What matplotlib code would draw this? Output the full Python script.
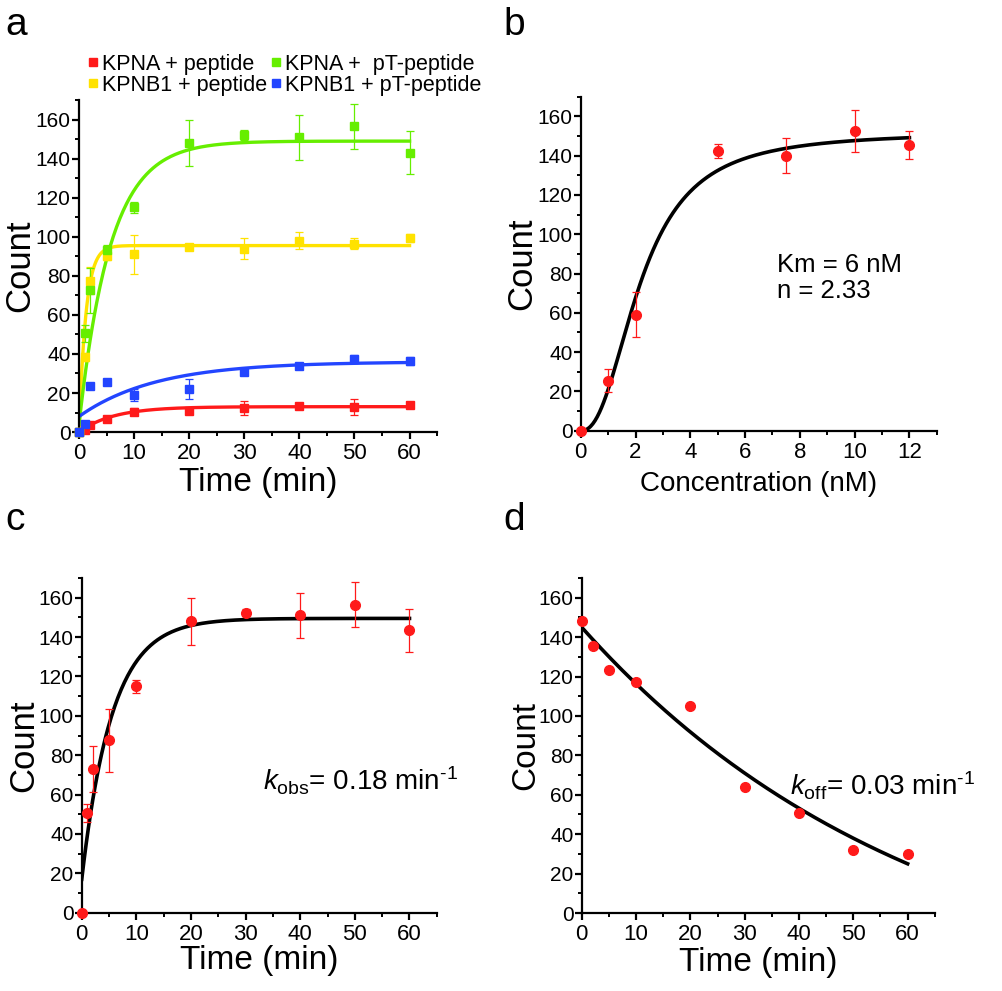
import numpy as np
import matplotlib
matplotlib.use('Agg')
import matplotlib.pyplot as plt
from matplotlib.ticker import MultipleLocator

plt.rcParams['font.family'] = ['Liberation Sans', 'DejaVu Sans']
plt.rcParams['mathtext.fontset'] = 'custom'
plt.rcParams['mathtext.rm'] = 'Liberation Sans'
plt.rcParams['mathtext.it'] = 'Liberation Sans:italic'

# ---- data ----
time_a = [0, 1, 2, 5, 10, 20, 30, 40, 50, 60]

kpna_pep = [0, 1, 3.5, 6.5, 10.5, 11, 12.5, 13.5, 13, 14]
kpna_pep_err = [0, 0.5, 1, 1, 2, 1, 3.5, 1, 4, 1.5]

kpna_pt = [0, 50.5, 72.5, 93, 115, 148, 152, 151, 156.5, 143]
kpna_pt_err = [0, 4.5, 11.5, 3, 3, 12, 2.5, 11.5, 11.5, 11]

kpnb_pep = [0, 38.5, 77.5, 90, 91, 95, 94, 98, 96.5, 99.5]
kpnb_pep_err = [0, 2, 7, 2, 10, 1.5, 5.5, 4.5, 3, 2]

kpnb_pt = [0, 4, 23.5, 25.5, 19, 22, 31, 34, 37.5, 36.5]
kpnb_pt_err = [0, 1, 1, 1, 3, 5, 2, 1, 2, 2]

# fitted curves (y0, plateau, k) as shown in panel a
fit_kpna_pep = (0, 13, 0.16)
fit_kpna_pt = (4, 149, 0.175)
fit_kpnb_pep = (0, 95.5, 0.8)
fit_kpnb_pt = (8, 36, 0.0715)

conc_b = [0, 1, 2, 5, 7.5, 10, 12]
count_b = [0, 25.5, 59, 142.5, 140, 152.5, 145.5]
err_b = [0, 6, 11.5, 3.5, 9, 10.8, 7.2]
hill_vmax, hill_k, hill_n = 152, 2.2, 2.33

time_c = [0, 1, 2, 5, 10, 20, 30, 40, 50, 60]
count_c = [0, 50.5, 73, 87.5, 115, 148, 152.5, 151, 156.5, 143.5]
err_c = [0, 4.5, 11.5, 16, 3.3, 12, 2, 11.5, 11.5, 11]
fit_c = (17, 149.5, 0.18)

time_d = [0, 2, 5, 10, 20, 30, 40, 50, 60]
count_d = [148, 135.5, 123.5, 117, 105, 64, 51, 32, 30]
fit_d = (-50.6, 195.6, 0.01585)   # offset, amplitude, k

RED = '#ff1a1a'
GREEN = '#66ee00'
YELLOW = '#ffe200'
BLUE = '#2345ff'


def rise(t, p):
    y0, top, k = p
    return top - (top - y0) * np.exp(-k * t)


def style_axes(ax, xmax, xmajor, xminor):
    ax.set_xlim(0, xmax)
    ax.set_ylim(0, 170)
    ax.xaxis.set_major_locator(MultipleLocator(xmajor))
    ax.xaxis.set_minor_locator(MultipleLocator(xminor))
    ax.yaxis.set_major_locator(MultipleLocator(20))
    ax.yaxis.set_minor_locator(MultipleLocator(10))
    for s in ['top', 'right']:
        ax.spines[s].set_visible(False)
    for s in ['left', 'bottom']:
        ax.spines[s].set_linewidth(1.6)
    ax.tick_params(which='major', direction='out', length=5, width=1.6)
    ax.tick_params(axis='y', which='major', pad=1, labelsize=15)
    ax.tick_params(axis='x', which='major', pad=3, labelsize=16)
    ax.tick_params(which='minor', direction='out', length=3, width=1.4)


def count_label(ax, xpos, size=25):
    ax.set_ylabel('Count', fontsize=size, va='center')
    ax.yaxis.set_label_coords(xpos, 0.5)


fig = plt.figure(figsize=(10.03, 9.91), dpi=100)

ax_a = fig.add_axes([0.0788, 0.564, 0.357, 0.335])
ax_b = fig.add_axes([0.579, 0.5654, 0.355, 0.337])
ax_c = fig.add_axes([0.0815, 0.079, 0.354, 0.3377])
ax_d = fig.add_axes([0.580, 0.0787, 0.352, 0.338])

# ---- panel a ----
tt = np.linspace(0, 60, 300)
series = [
    (kpna_pep, kpna_pep_err, fit_kpna_pep, RED, 'KPNA + peptide'),
    (kpnb_pep, kpnb_pep_err, fit_kpnb_pep, YELLOW, 'KPNB1 + peptide'),
    (kpna_pt, kpna_pt_err, fit_kpna_pt, GREEN, 'KPNA +  pT-peptide'),
    (kpnb_pt, kpnb_pt_err, fit_kpnb_pt, BLUE, 'KPNB1 + pT-peptide'),
]
handles = []
for ys, es, fp, col, lab in series:
    ax_a.plot(tt, rise(tt, fp), color=col, lw=2.4, zorder=2)
    ax_a.errorbar(time_a, ys, yerr=es, fmt='none', ecolor=col, elinewidth=0.9,
                  capsize=3, capthick=0.9, zorder=3)
    h, = ax_a.plot(time_a, ys, 's', color=col, ms=6, zorder=4, label=lab,
                   clip_on=False)
    handles.append(h)
style_axes(ax_a, 65, 10, 5)
ax_a.set_xlabel('Time (min)', fontsize=24, labelpad=2)
count_label(ax_a, -0.166)
ax_a.legend(handles=handles, ncol=2, loc='lower left',
            bbox_to_anchor=(0.0, 0.98), frameon=False, fontsize=15.5,
            handlelength=0.3, handletextpad=0.25, columnspacing=0.3,
            labelspacing=0.0, borderpad=0, markerscale=0.9)

# ---- panel b ----
cc = np.linspace(0, 12, 300)
hill = hill_vmax * cc ** hill_n / (hill_k ** hill_n + cc ** hill_n)
ax_b.plot(cc, hill, color='black', lw=2.6, zorder=2)
ax_b.errorbar(conc_b, count_b, yerr=err_b, fmt='o', color=RED, ms=7,
              ecolor=RED, elinewidth=0.9, capsize=3, capthick=0.9, zorder=3,
              clip_on=False)
style_axes(ax_b, 13, 2, 1)
ax_b.set_xlabel('Concentration (nM)', fontsize=20, labelpad=6)
count_label(ax_b, -0.166)
ax_b.text(0.551, 0.457, 'Km = 6 nM\nn = 2.33', transform=ax_b.transAxes,
          fontsize=18.5, va='center', ha='left', linespacing=1.1)

# ---- panel c ----
ax_c.plot(tt, rise(tt, fit_c), color='black', lw=2.6, zorder=2)
ax_c.errorbar(time_c, count_c, yerr=err_c, fmt='o', color=RED, ms=7,
              ecolor=RED, elinewidth=0.9, capsize=3, capthick=0.9, zorder=3,
              clip_on=False)
style_axes(ax_c, 65, 10, 5)
ax_c.set_xlabel('Time (min)', fontsize=24, labelpad=0)
count_label(ax_c, -0.163)
ax_c.text(0.51, 0.365, r'$k_{\mathrm{obs}}$= 0.18 min$^{\text{-1}}$',
          transform=ax_c.transAxes, fontsize=20, ha='left', va='baseline')

# ---- panel d ----
c0, amp, kd = fit_d
ax_d.plot(tt, c0 + amp * np.exp(-kd * tt), color='black', lw=2.6, zorder=2)
ax_d.plot(time_d, count_d, 'o', color=RED, ms=7, zorder=3, clip_on=False)
style_axes(ax_d, 65, 10, 5)
ax_d.set_xlabel('Time (min)', fontsize=24, labelpad=1)
count_label(ax_d, -0.16, size=24)
ax_d.text(0.59, 0.35, r'$k_{\mathrm{off}}$= 0.03 min$^{\text{-1}}$',
          transform=ax_d.transAxes, fontsize=20, ha='left', va='baseline')

# panel letters
for lab, x, y in [('a', 0.005, 0.975), ('b', 0.502, 0.975),
                  ('c', 0.005, 0.475), ('d', 0.502, 0.475)]:
    fig.text(x, y, lab, fontsize=28, ha='left', va='center')

fig.savefig('out.png', dpi=100)
